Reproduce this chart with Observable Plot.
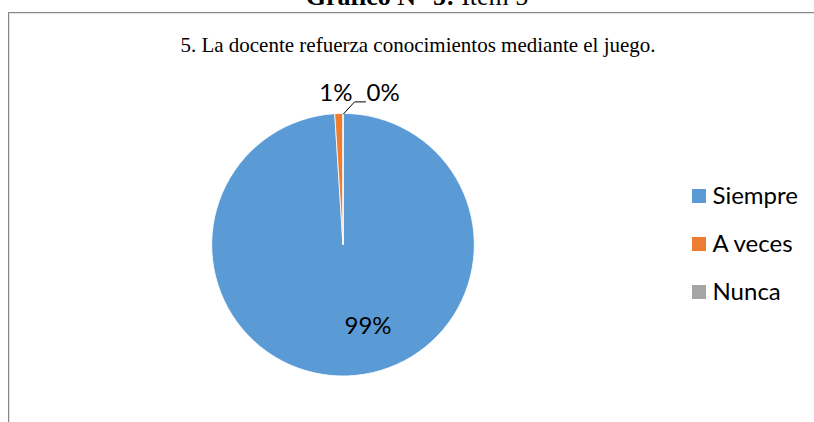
<!DOCTYPE html>
<html><head><meta charset="utf-8">
<script src="https://cdn.jsdelivr.net/npm/d3@7"></script>
<script src="https://cdn.jsdelivr.net/npm/@observablehq/plot@0.6"></script>
<style>
body{margin:0;background:#fff;}
#wrap{position:relative;width:814px;height:422px;overflow:hidden;background:#fff;}
#frame{position:absolute;left:8px;top:12px;width:830px;height:430px;border-left:1px solid #878787;border-top:1px solid #878787;box-shadow:inset 1px 1px 0 #e4e4e4;}
#title{position:absolute;left:0;width:834px;top:-16px;text-align:center;font-family:"Liberation Serif",serif;font-size:26px;line-height:26px;white-space:nowrap;color:#000;}
#subtitle{position:absolute;left:0;width:836px;top:34px;text-align:center;font-family:"Liberation Serif",serif;font-size:21px;line-height:22px;white-space:nowrap;color:#000;}
#chart{position:absolute;left:0;top:0;}
</style></head>
<body>
<div id="wrap">
  <div id="frame"></div>
  <div id="title"><b>Gráfico N° 5:</b> Ítem 5</div>
  <div id="subtitle">5. La docente refuerza conocimientos mediante el juego.</div>
  <div id="chart"></div>
</div>
<script>
const categories = ["Siempre", "A veces", "Nunca"];
const values = [99, 1, 0];
const valueLabels = ["99%", "1%", "0%"];
const colors = ["#5B9BD5", "#ED7D31", "#A5A5A5"];

const W = 814, H = 422;
const cx = 343, cy = 244.7, R = 131.3;
const font = "Lato, 'Open Sans', sans-serif";

const rows = categories.map((c, i) => ({category: c, value: values[i], label: valueLabels[i]}));
const arcs = d3.pie().sort(null).value(d => d.value)(rows);

// label placement derived from arc geometry
const labelRows = [];
const leaderRows = [];
let smallIdx = 0;
arcs.forEach(a => {
  const mid = (a.startAngle + a.endAngle) / 2;
  if (a.endAngle - a.startAngle > 0.3) {
    const rr = R * 0.62;
    labelRows.push({label: a.data.label, x: cx + rr * Math.sin(mid) + 22, y: cy - rr * Math.cos(mid), anchor: "middle"});
  } else {
    const ax = cx + R * Math.sin(mid), ay = cy - R * Math.cos(mid);
    if (smallIdx === 0) {
      labelRows.push({label: a.data.label, x: ax + 13, y: cy - R - 21, anchor: "end"});
    } else {
      labelRows.push({label: a.data.label, x: ax + 23, y: cy - R - 21, anchor: "start"});
      const g = a.data.category;
      leaderRows.push({g, x: ax, y: ay}, {g, x: ax + 11, y: cy - R - 12}, {g, x: ax + 22, y: cy - R - 12});
    }
    smallIdx++;
  }
});

const legendRows = categories.map((c, i) => ({category: c, y: 196 + i * 48}));

function pieSlices(index, scales) {
  const g = d3.create("svg:g")
    .attr("transform", `translate(${scales.x(cx)},${scales.y(cy)})`);
  const arc = d3.arc().innerRadius(0).outerRadius(R);
  g.selectAll("path").data(arcs).join("path")
    .attr("d", arc)
    .attr("fill", d => scales.color(d.data.category))
    .attr("stroke", "#fff")
    .attr("stroke-width", 0.8)
    .attr("stroke-linejoin", "round");
  return g.node();
}

const labelText = (anchor) => Plot.text(labelRows.filter(d => d.anchor === anchor), {
  x: "x", y: "y", text: "label", textAnchor: anchor, fontSize: 24, fontFamily: font, fill: "#000"
});

const plot = Plot.plot({
  width: W, height: H,
  margin: 0,
  style: {background: "transparent", overflow: "visible"},
  x: {domain: [0, W], range: [0, W], axis: null},
  y: {domain: [0, H], range: [0, H], axis: null},
  color: {domain: categories, range: colors},
  marks: [
    pieSlices,
    Plot.line(leaderRows, {x: "x", y: "y", z: "g", stroke: "#000", strokeWidth: 1}),
    labelText("middle"),
    labelText("start"),
    labelText("end"),
    Plot.rect(legendRows, {x1: 692, x2: 706, y1: d => d.y - 7, y2: d => d.y + 7, fill: "category"}),
    Plot.text(legendRows, {x: 712, y: "y", text: "category", textAnchor: "start", fontSize: 24, fontFamily: font, fill: "#000"})
  ]
});
document.getElementById("chart").append(plot);
</script>
</body></html>
